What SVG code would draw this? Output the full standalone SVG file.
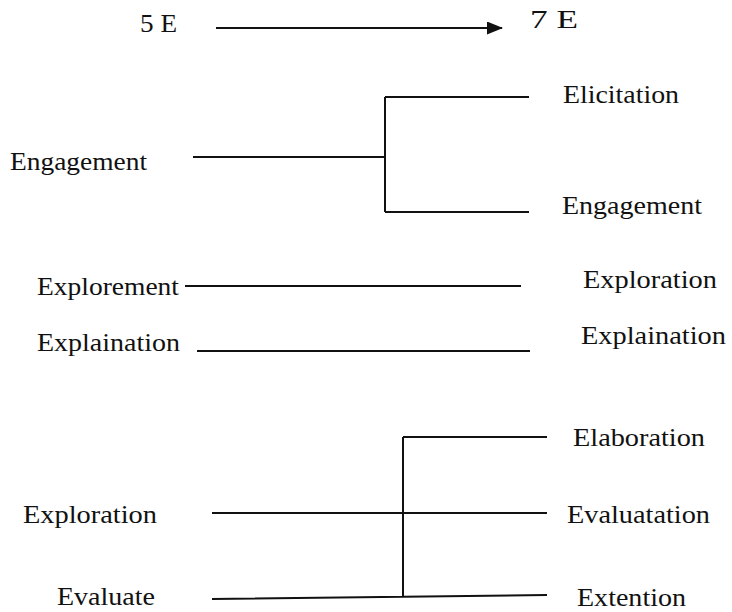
<svg xmlns="http://www.w3.org/2000/svg" width="732" height="612" viewBox="0 0 732 612">
<defs>
<style>
.t{font-family:"Liberation Serif","Times New Roman",serif;font-size:25px;fill:#111}
.c{stroke:#111;stroke-width:2;fill:none}
</style>
<marker id="ah" markerWidth="16" markerHeight="13" refX="15" refY="6.5" orient="auto" markerUnits="userSpaceOnUse">
<path d="M0,0 L16,6.5 L0,13 Z" fill="#111"/>
</marker>
</defs>
<rect width="732" height="612" fill="#fff"/>
<g id="connectors">
<line class="c" x1="216" y1="28" x2="502" y2="28" marker-end="url(#ah)"/>
<path class="c" d="M193,157 H385 M385,97 V212 M385,97 H529 M385,212 H529"/>
<path class="c" d="M185,286 H521"/>
<path class="c" d="M197,351 H530"/>
<path class="c" d="M403,437 V597 M403,437 H547 M212,513 H547 M212,599 L547,595"/>
</g>
<g id="n5e"><text class="t" x="140" y="32" textLength="37" lengthAdjust="spacingAndGlyphs">5 E</text></g>
<g id="n7e"><text class="t" x="530" y="28" textLength="48" lengthAdjust="spacingAndGlyphs">7 E</text></g>
<g id="engL"><text class="t" x="10" y="170" textLength="137" lengthAdjust="spacingAndGlyphs">Engagement</text></g>
<g id="elic"><text class="t" x="563" y="103" textLength="116" lengthAdjust="spacingAndGlyphs">Elicitation</text></g>
<g id="engR"><text class="t" x="562" y="214" textLength="140" lengthAdjust="spacingAndGlyphs">Engagement</text></g>
<g id="explorement"><text class="t" x="37" y="295" textLength="142" lengthAdjust="spacingAndGlyphs">Explorement</text></g>
<g id="explainL"><text class="t" x="37" y="351" textLength="143" lengthAdjust="spacingAndGlyphs">Explaination</text></g>
<g id="exploreR"><text class="t" x="583" y="288" textLength="134" lengthAdjust="spacingAndGlyphs">Exploration</text></g>
<g id="explainR"><text class="t" x="581" y="344" textLength="145" lengthAdjust="spacingAndGlyphs">Explaination</text></g>
<g id="exploreL"><text class="t" x="23" y="523" textLength="134" lengthAdjust="spacingAndGlyphs">Exploration</text></g>
<g id="evaluate"><text class="t" x="57" y="605" textLength="98" lengthAdjust="spacingAndGlyphs">Evaluate</text></g>
<g id="elab"><text class="t" x="573" y="446" textLength="132" lengthAdjust="spacingAndGlyphs">Elaboration</text></g>
<g id="evalR"><text class="t" x="567" y="523" textLength="143" lengthAdjust="spacingAndGlyphs">Evaluatation</text></g>
<g id="ext"><text class="t" x="577" y="606" textLength="109" lengthAdjust="spacingAndGlyphs">Extention</text></g>
</svg>
